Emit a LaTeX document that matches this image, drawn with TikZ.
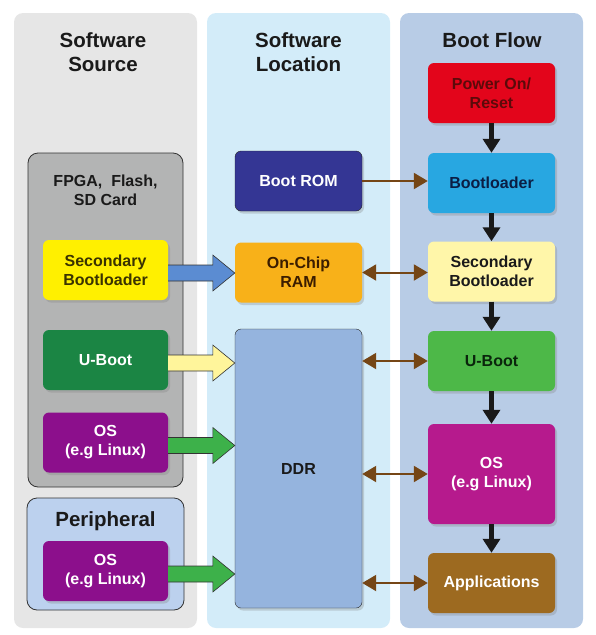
\documentclass[tikz,border=0pt]{standalone}
\usepackage{fontspec}
\setmainfont{Liberation Sans}
\usetikzlibrary{arrows.meta,shadows,calc,positioning}
\definecolor{colsource}{HTML}{E6E6E6}
\definecolor{colloc}{HTML}{D3ECF9}
\definecolor{colflow}{HTML}{B8CCE6}
\definecolor{fpgagrey}{HTML}{B3B4B4}
\definecolor{perblue}{HTML}{BCD1EE}
\definecolor{secyellow}{HTML}{FFF000}
\definecolor{ubootdark}{HTML}{1B8544}
\definecolor{ospurple}{HTML}{8C0F8C}
\definecolor{romblue}{HTML}{343694}
\definecolor{ramorange}{HTML}{F8B119}
\definecolor{ddrblue}{HTML}{95B4DE}
\definecolor{powerred}{HTML}{E3051B}
\definecolor{blcyan}{HTML}{28A7E1}
\definecolor{secpale}{HTML}{FFF6A9}
\definecolor{ubootgreen}{HTML}{4DB848}
\definecolor{osmagenta}{HTML}{B61A8D}
\definecolor{appbrown}{HTML}{9D6A20}
\definecolor{arrblue}{HTML}{5B8CD2}
\definecolor{arryellow}{HTML}{FFF59B}
\definecolor{arrgreen}{HTML}{3DB14A}
\definecolor{busbrown}{HTML}{754616}
\definecolor{powertext}{HTML}{5C0A0A}
\definecolor{bltext}{HTML}{0B1E44}
\definecolor{ramtext}{HTML}{3B1D00}
\definecolor{sectext}{HTML}{3A3300}
\definecolor{darktext}{HTML}{1A1A1A}
\definecolor{ubootgtext}{HTML}{0A250C}
\tikzset{column/.style={rounded corners=9pt},
  holder/.style={rounded corners=10pt,draw=black!80,line width=0.8pt},
  box/.style={rounded corners=6pt,minimum width=125pt,minimum height=60pt,align=center,
    font=\fontsize{16}{19}\selectfont\bfseries,
    drop shadow={shadow xshift=2pt,shadow yshift=-2.5pt,opacity=0.3}},
  title/.style={align=center,font=\fontsize{20.5}{24.5}\selectfont\bfseries,text=darktext},
  bigarrow/.style={draw=black!80,line width=0.6pt,line join=miter},
  bus/.style={draw=busbrown,line width=2pt},
  flowarrow/.style={draw=black!90,line width=4.5pt,-{Triangle[length=14pt,width=17pt]}}}

\begin{document}
\begin{tikzpicture}[x=1pt,y=-1pt]
\useasboundingbox (0,0) rectangle (596,635);
% columns
\fill[column,fill=colsource] (14,13) rectangle (197,628);
\fill[column,fill=colloc] (207,13) rectangle (390,628);
\fill[column,fill=colflow] (400,13) rectangle (583,628);
\node[title] (srctitle) at (103,52) {Software\\Source};
\node[title] (loctitle) at (298.5,52) {Software\\Location};
\node[title] (flowtitle) at (492,40) {Boot Flow};
% software source
\node[holder,fill=fpgagrey,minimum width=155pt,minimum height=334pt] (fpga) at (105.5,320) {};
\node[align=center,font=\fontsize{16}{19}\selectfont\bfseries,text=darktext] (fpgalabel) at (105.5,190) {FPGA,\ \ Flash,\\SD Card};
\node[holder,fill=perblue,minimum width=157pt,minimum height=112pt] (peri) at (105.5,554) {};
\node[title] (perilabel) at (105.5,521) {Peripheral};
\node[box,fill=secyellow,text=sectext] (srcsec) at (105.5,270) {Secondary\\Bootloader};
\node[box,fill=ubootdark,text=white] (srcuboot) at (105.5,360) {U-Boot};
\node[box,fill=ospurple,text=white] (srcos) at (105.5,442.5) {OS\\(e.g Linux)};
\node[box,fill=ospurple,text=white] (perios) at (105.5,571) {OS\\(e.g Linux)};
% software location
\node[box,fill=romblue,text=white,draw=black!85,minimum width=127pt] (rom) at (298.5,181) {Boot ROM};
\node[box,fill=ramorange,text=ramtext,minimum width=127pt] (ram) at (298.5,272.5) {On-Chip\\RAM};
\node[box,fill=ddrblue,text=darktext,draw=black!85,minimum width=127pt,minimum height=279pt] (ddr) at (298.5,468.5) {DDR};
% boot flow
\node[box,fill=powerred,text=powertext,minimum width=127pt] (power) at (491.5,93) {Power On/\\Reset};
\node[box,fill=blcyan,text=bltext,minimum width=127pt] (bl) at (491.5,183) {Bootloader};
\node[box,fill=secpale,text=darktext,minimum width=127pt] (flowsec) at (491.5,271.5) {Secondary\\Bootloader};
\node[box,fill=ubootgreen,text=ubootgtext,minimum width=127pt] (flowuboot) at (491.5,361) {U-Boot};
\node[box,fill=osmagenta,text=white,minimum width=127pt,minimum height=100pt] (flowos) at (491.5,474) {OS\\(e.g Linux)};
\node[box,fill=appbrown,text=white,minimum width=127pt] (apps) at (491.5,583) {Applications};
% loading arrows
\foreach \from/\to/\col in {srcsec/ram/arrblue,srcuboot/ddr/arryellow,srcos/ddr/arrgreen,perios/ddr/arrgreen}{
  \coordinate (s) at ($(\from.east)+(0,3)$);
  \coordinate (t) at (s -| \to.west);
  \draw[bigarrow,fill=\col] ($(s)+(0,-8)$) -- ($(t)+(-22,-8)$) -- ($(t)+(-22,-18)$) -- (t)
    -- ($(t)+(-22,18)$) -- ($(t)+(-22,8)$) -- ($(s)+(0,8)$);
}
% memory to boot flow
\draw[bus,-{Triangle[length=14pt,width=16pt]}] (rom.east) -- (rom.east -| bl.west);
\draw[bus,{Triangle[length=14pt,width=16pt]}-{Triangle[length=14pt,width=16pt]}] (ram.east) -- (ram.east -| flowsec.west);
\foreach \n in {flowuboot,flowos,apps}
  \draw[bus,{Triangle[length=14pt,width=16pt]}-{Triangle[length=14pt,width=16pt]}] (\n.west -| ddr.east) -- (\n.west);
% boot order
\foreach \a/\b in {power/bl,bl/flowsec,flowsec/flowuboot,flowuboot/flowos,flowos/apps}
  \draw[flowarrow] (\a.south) -- (\b.north);
\end{tikzpicture}
\end{document}
